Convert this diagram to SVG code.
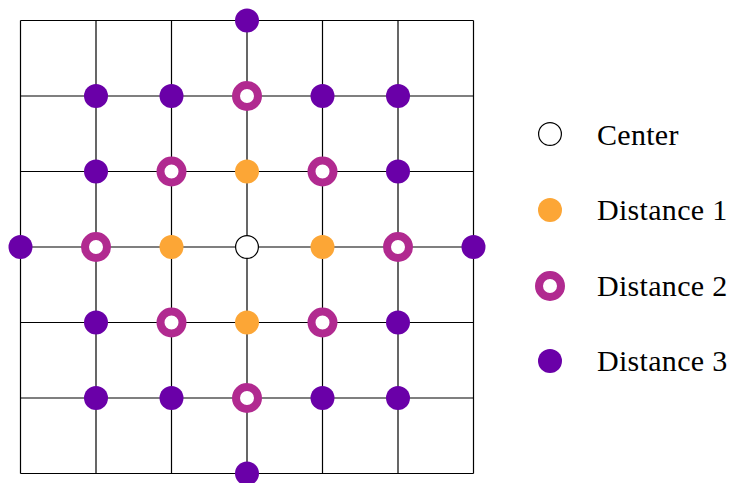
<svg xmlns="http://www.w3.org/2000/svg" width="734" height="483" viewBox="0 0 734 483">
<style>
.grid line{stroke:#000;stroke-width:1.2}
.c0{fill:#fff;stroke:#000;stroke-width:1.2}
.d1{fill:#fca636}
.d2{fill:#fff;stroke:#b12a90;stroke-width:8}
.d3{fill:#6a00a8}
text{font-family:"Liberation Serif","DejaVu Serif",serif;font-size:30px;letter-spacing:0.3px;fill:#000}
</style>
<defs>
<circle id="p0" r="11.4" class="c0"/>
<circle id="p1" r="12" class="d1"/>
<circle id="p2" r="11" class="d2"/>
<circle id="p3" r="12" class="d3"/>
</defs>
<rect width="734" height="483" fill="#fff"/>
<g id="connectors" class="grid">
<line x1="20.5" y1="20.5" x2="473.5" y2="20.5"/>
<line x1="20.5" y1="96" x2="473.5" y2="96"/>
<line x1="20.5" y1="171.5" x2="473.5" y2="171.5"/>
<line x1="20.5" y1="247" x2="473.5" y2="247"/>
<line x1="20.5" y1="322.5" x2="473.5" y2="322.5"/>
<line x1="20.5" y1="398" x2="473.5" y2="398"/>
<line x1="20.5" y1="473.5" x2="473.5" y2="473.5"/>
<line x1="20.5" y1="20.5" x2="20.5" y2="473.5"/>
<line x1="96" y1="20.5" x2="96" y2="473.5"/>
<line x1="171.5" y1="20.5" x2="171.5" y2="473.5"/>
<line x1="247" y1="20.5" x2="247" y2="473.5"/>
<line x1="322.5" y1="20.5" x2="322.5" y2="473.5"/>
<line x1="398" y1="20.5" x2="398" y2="473.5"/>
<line x1="473.5" y1="20.5" x2="473.5" y2="473.5"/>
</g>
<g id="center"><use href="#p0" x="247" y="247"/></g>
<g id="dist1">
<g id="d1-n"><use href="#p1" x="247" y="171.5"/></g>
<g id="d1-w"><use href="#p1" x="171.5" y="247"/></g>
<g id="d1-e"><use href="#p1" x="322.5" y="247"/></g>
<g id="d1-s"><use href="#p1" x="247" y="322.5"/></g>
</g>
<g id="dist2">
<g id="d2-a"><use href="#p2" x="247" y="96"/></g>
<g id="d2-b"><use href="#p2" x="171.5" y="171.5"/></g>
<g id="d2-c"><use href="#p2" x="322.5" y="171.5"/></g>
<g id="d2-d"><use href="#p2" x="96" y="247"/></g>
<g id="d2-e"><use href="#p2" x="398" y="247"/></g>
<g id="d2-f"><use href="#p2" x="171.5" y="322.5"/></g>
<g id="d2-g"><use href="#p2" x="322.5" y="322.5"/></g>
<g id="d2-h"><use href="#p2" x="247" y="398"/></g>
</g>
<g id="dist3">
<g id="d3-a"><use href="#p3" x="247" y="20.5"/></g>
<g id="d3-b"><use href="#p3" x="96" y="96"/></g>
<g id="d3-c"><use href="#p3" x="171.5" y="96"/></g>
<g id="d3-d"><use href="#p3" x="322.5" y="96"/></g>
<g id="d3-e"><use href="#p3" x="398" y="96"/></g>
<g id="d3-f"><use href="#p3" x="96" y="171.5"/></g>
<g id="d3-g"><use href="#p3" x="398" y="171.5"/></g>
<g id="d3-h"><use href="#p3" x="20.5" y="247"/></g>
<g id="d3-i"><use href="#p3" x="473.5" y="247"/></g>
<g id="d3-j"><use href="#p3" x="96" y="322.5"/></g>
<g id="d3-k"><use href="#p3" x="398" y="322.5"/></g>
<g id="d3-l"><use href="#p3" x="96" y="398"/></g>
<g id="d3-m"><use href="#p3" x="171.5" y="398"/></g>
<g id="d3-n"><use href="#p3" x="322.5" y="398"/></g>
<g id="d3-o"><use href="#p3" x="398" y="398"/></g>
<g id="d3-p"><use href="#p3" x="247" y="473.5"/></g>
</g>
<g id="legend">
<g id="leg-center"><use href="#p0" x="550" y="134"/><text x="597" y="145">Center</text></g>
<g id="leg-d1"><use href="#p1" x="550" y="210"/><text x="597" y="220">Distance 1</text></g>
<g id="leg-d2"><use href="#p2" x="550" y="286"/><text x="597" y="296">Distance 2</text></g>
<g id="leg-d3"><use href="#p3" x="550" y="361"/><text x="597" y="371">Distance 3</text></g>
</g>
</svg>
